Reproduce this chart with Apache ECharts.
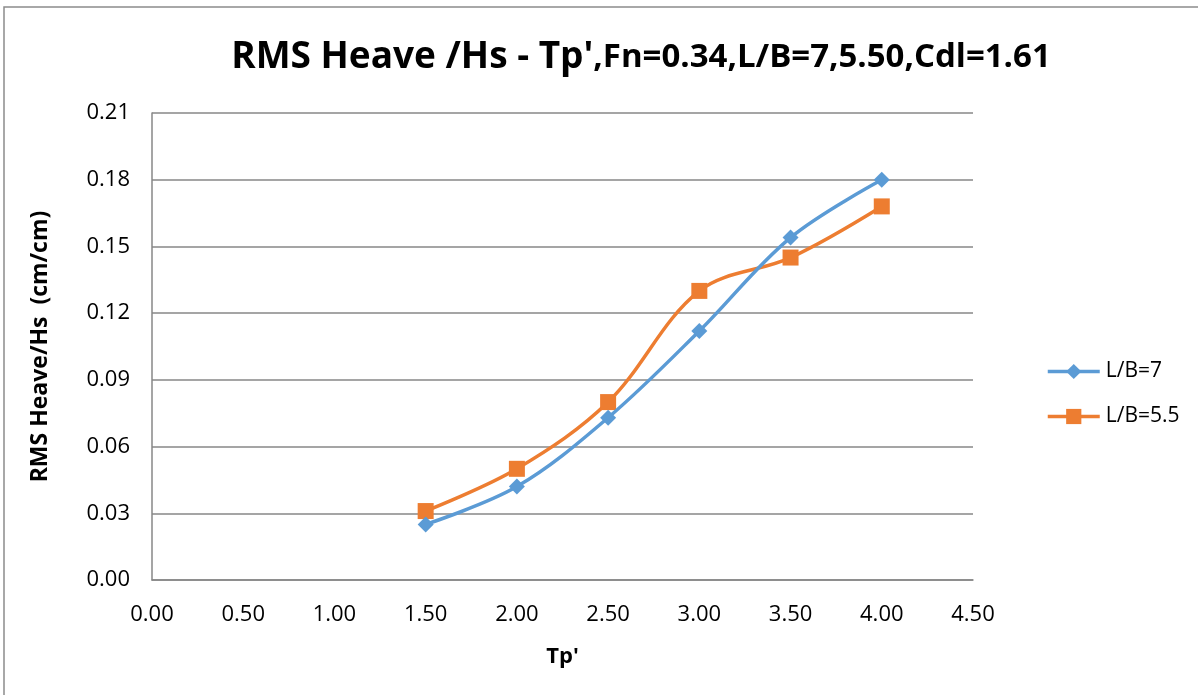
<!DOCTYPE html>
<html>
<head>
<meta charset="utf-8">
<title>RMS Heave /Hs - Tp'</title>
<script src="https://cdn.jsdelivr.net/npm/echarts@6/dist/echarts.min.js"></script>
<style>
  html, body { margin: 0; padding: 0; background: #fff; }
  #chart { width: 1198px; height: 695px; }
</style>
</head>
<body>
<div id="chart"></div>
<script>
// Peak period Tp' (x) and RMS heave / Hs (y) for the two length/beam ratios
const tpValues = [1.5, 2.0, 2.5, 3.0, 3.5, 4.0];
const heaveLB7 = [0.025, 0.042, 0.073, 0.112, 0.154, 0.180];
const heaveLB55 = [0.031, 0.050, 0.080, 0.130, 0.145, 0.168];
const seriesNames = ['L/B=7', 'L/B=5.5'];

const FONT = "'Open Sans', 'Liberation Sans', sans-serif";
const GRID_GREY = '#878787';
const BLUE = '#5b9bd5';
const ORANGE = '#ed7d31';

const pairs = (xs, ys) => xs.map((x, i) => [x, ys[i]]);

const chart = echarts.init(document.getElementById('chart'), null, { renderer: 'canvas' });

chart.setOption({
  backgroundColor: '#ffffff',
  animation: false,
  graphic: [{
    type: 'rect',
    shape: { x: 4, y: 7, width: 1300, height: 800 },
    style: { fill: 'none', stroke: '#8c8c8c', lineWidth: 1.5 },
    silent: true
  }],
  title: {
    text: "{a|RMS Heave /Hs - Tp'}{b|,Fn=0.34,L/B=7,5.50,Cdl=1.61}",
    left: 636,
    textAlign: 'center',
    top: 34,
    textStyle: {
      rich: {
        a: { fontFamily: FONT, fontWeight: 'bold', fontSize: 37, color: '#000' },
        b: { fontFamily: FONT, fontWeight: 'bold', fontSize: 33, color: '#000' }
      }
    }
  },
  legend: {
    orient: 'vertical',
    left: 1041,
    top: 356,
    itemWidth: 52,
    itemHeight: 19,
    itemGap: 24,
    data: seriesNames,
    lineStyle: { width: 3.5 },
    textStyle: { fontFamily: FONT, fontSize: 21, color: '#000', padding: [0, 0, 0, 1] }
  },
  grid: { left: 152, right: 225, top: 113, bottom: 115, containLabel: false },
  xAxis: {
    type: 'value',
    min: 0, max: 4.5, interval: 0.5,
    name: "Tp'",
    nameLocation: 'middle',
    nameGap: 66,
    nameTextStyle: { fontFamily: FONT, fontWeight: 'bold', fontSize: 22, color: '#000' },
    axisLine: { show: true, lineStyle: { color: GRID_GREY, width: 1.5 } },
    axisTick: { show: false },
    splitLine: { show: false },
    axisLabel: {
      fontFamily: FONT, fontSize: 22, color: '#000', margin: 24,
      formatter: v => v.toFixed(2)
    }
  },
  yAxis: {
    type: 'value',
    min: 0, max: 0.21, interval: 0.03,
    name: 'RMS Heave/Hs  (cm/cm)',
    nameLocation: 'middle',
    nameGap: 100,
    nameTextStyle: { fontFamily: FONT, fontWeight: 'bold', fontSize: 23, color: '#000' },
    axisLine: { show: true, lineStyle: { color: GRID_GREY, width: 1.5 } },
    axisTick: { show: false },
    splitLine: { show: true, lineStyle: { color: GRID_GREY, width: 1.5 } },
    axisLabel: {
      fontFamily: FONT, fontSize: 22, color: '#000', margin: 22,
      formatter: v => v.toFixed(2)
    }
  },
  series: [
    {
      name: seriesNames[0],
      type: 'line',
      data: pairs(tpValues, heaveLB7),
      smooth: 0.35,
      symbol: 'diamond',
      symbolSize: 16,
      itemStyle: { color: BLUE },
      lineStyle: { color: BLUE, width: 3.5 },
      z: 3
    },
    {
      name: seriesNames[1],
      type: 'line',
      data: pairs(tpValues, heaveLB55),
      smooth: 0.35,
      symbol: 'rect',
      symbolSize: 16,
      itemStyle: { color: ORANGE },
      lineStyle: { color: ORANGE, width: 3.5 },
      z: 2
    }
  ]
});
</script>
</body>
</html>
